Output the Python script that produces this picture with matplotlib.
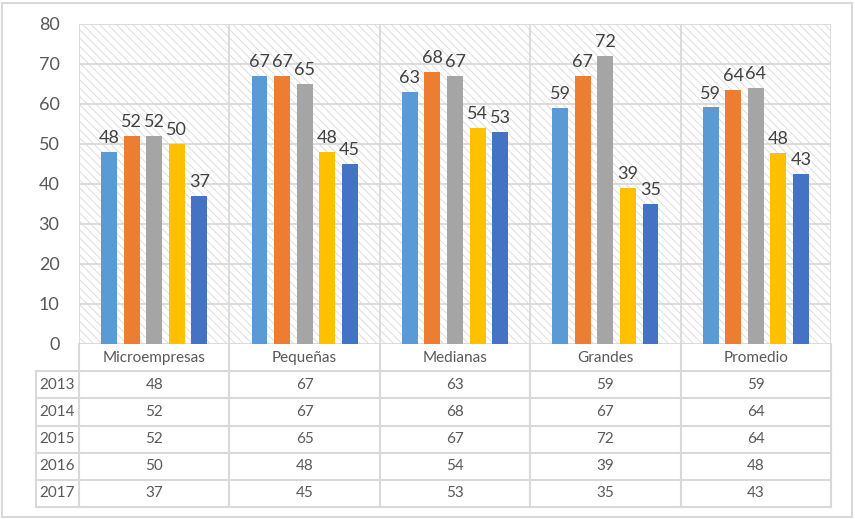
import numpy as np
import matplotlib.pyplot as plt
from matplotlib.patches import Rectangle

plt.rcParams['font.family'] = ['Lato', 'DejaVu Sans']
plt.rcParams['hatch.linewidth'] = 0.6
plt.rcParams['hatch.color'] = '#D9D9D9'

categorias = ['Microempresas', 'Pequeñas', 'Medianas', 'Grandes', 'Promedio']
anios = ['2013', '2014', '2015', '2016', '2017']
v2013 = [48, 67, 63, 59, 59.2]
v2014 = [52, 67, 68, 67, 63.6]
v2015 = [52, 65, 67, 72, 64.0]
v2016 = [50, 48, 54, 39, 47.8]
v2017 = [37, 45, 53, 35, 42.6]
series = [v2013, v2014, v2015, v2016, v2017]
colores = ['#5B9BD5', '#ED7D31', '#A5A5A5', '#FFC000', '#4472C4']

W, H = 855, 519
fig = plt.figure(figsize=(W / 100, H / 100), dpi=100)

# marco exterior
fig.patches.append(Rectangle((2 / W, 2 / H), 850 / W, 514 / H, transform=fig.transFigure,
                             fill=False, edgecolor='#D9D9D9', linewidth=1.5))

left, right, top, bottom = 79, 831, 24, 344
ax = fig.add_axes([left / W, (H - bottom) / H, (right - left) / W, (bottom - top) / H])
grid_c = '#D9D9D9'
txt_c = '#404040'

x = np.arange(len(categorias))
ancho = 0.106
paso = 0.15

# fondo rayado
ax.add_patch(Rectangle((0, 0), 1, 1, transform=ax.transAxes, facecolor='white',
                       edgecolor=grid_c, hatch='\\\\\\\\', linewidth=0, zorder=0))

for i, (vals, c) in enumerate(zip(series, colores)):
    pos = x + (i - 2) * paso
    ax.bar(pos, vals, width=ancho, color=c, zorder=3)
    for p, v in zip(pos, vals):
        ax.annotate(f'{v:.0f}', (p, v), xytext=(0, 4), textcoords='offset points',
                    ha='center', va='bottom', fontsize=13, color=txt_c, zorder=4)

ax.set_xlim(-0.5, len(categorias) - 0.5)
ax.set_ylim(0, 80)
ax.set_yticks(range(0, 81, 10))
ax.set_xticks([])
ax.tick_params(axis='y', length=0, pad=14, labelsize=13, labelcolor='#595959')
for yv in range(0, 81, 10):
    ax.axhline(yv, color=grid_c, lw=1.3, zorder=1)
for xv in np.arange(-0.5, len(categorias), 1.0):
    ax.axvline(xv, color=grid_c, lw=1.3, zorder=1)
for s in ax.spines.values():
    s.set_visible(False)

# tabla de datos
tb = 507
tax = fig.add_axes([left / W, (H - tb) / H, (right - left) / W, (tb - bottom) / H])
tax.set_xlim(-0.5, len(categorias) - 0.5)
tax.set_ylim(6, 0)
tax.axis('off')
x_lab = -0.5 - (left - 36) / ((right - left) / len(categorias))

for xv in np.arange(-0.5, len(categorias), 1.0):
    tax.plot([xv, xv], [0, 6], color=grid_c, lw=1.5, clip_on=False)
tax.plot([x_lab, x_lab], [1, 6], color=grid_c, lw=1.5, clip_on=False)
for r in range(1, 7):
    tax.plot([x_lab, len(categorias) - 0.5], [r, r], color=grid_c, lw=1.5, clip_on=False)

for j, cat in enumerate(categorias):
    tax.text(j, 0.5, cat, ha='center', va='center', fontsize=11, color='#595959')
for i, (anio, vals) in enumerate(zip(anios, series)):
    tax.text((x_lab - 0.5) / 2, i + 1.5, anio, ha='center', va='center',
             fontsize=11, color='#595959', clip_on=False)
    for j, v in enumerate(vals):
        tax.text(j, i + 1.5, f'{v:.0f}', ha='center', va='center', fontsize=11, color='#595959')

fig.savefig('out.png', dpi=100)
